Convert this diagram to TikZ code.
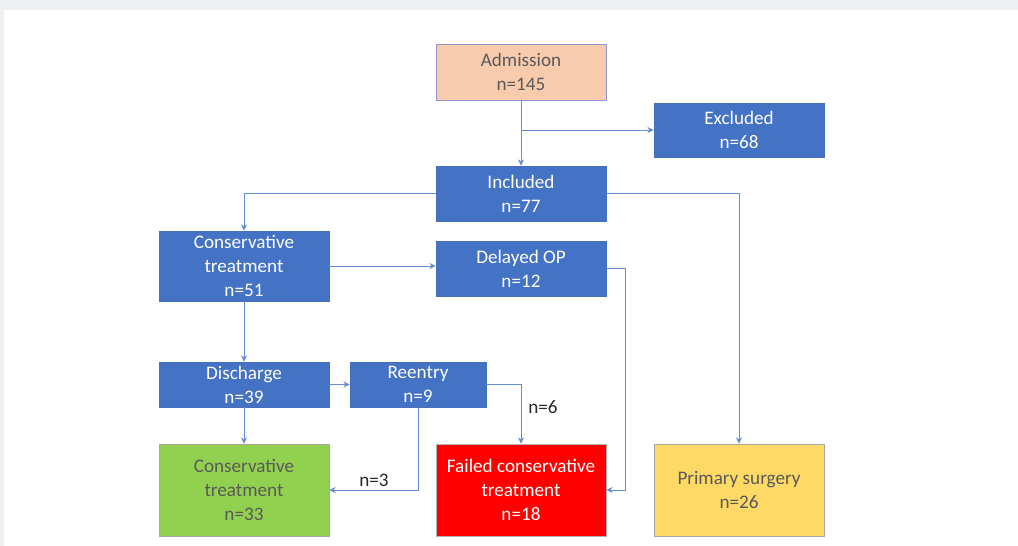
\documentclass[tikz,border=0pt]{standalone}
\usepackage{fontspec}
\setmainfont{Carlito}
\usetikzlibrary{arrows.meta, positioning, calc}
\definecolor{pagegrey}{RGB}{239,240,242}
\definecolor{boxblue}{RGB}{68,114,196}
\definecolor{edgeblue}{RGB}{70,110,185}
\definecolor{lineblue}{RGB}{100,140,210}
\definecolor{peach}{RGB}{248,203,173}
\definecolor{leafgreen}{RGB}{146,208,80}
\definecolor{sunyellow}{RGB}{255,217,102}
\definecolor{textgrey}{RGB}{89,89,89}

\begin{document}
\begin{tikzpicture}[
  x=0.02cm, y=-0.02cm,
  box/.style={rectangle, draw=edgeblue, line width=0.5pt, minimum width=3.4cm, align=center,
              inner sep=0pt, font=\fontsize{10.9}{13.6}\selectfont},
  bluebox/.style={box, fill=boxblue, text=white},
  lightbox/.style={box, draw=gray!70, text=textgrey},
  flow/.style={draw=lineblue, line width=0.5pt, -{Stealth[length=3.5pt,width=3.5pt]}},
  countlabel/.style={font=\fontsize{10.9}{12}\selectfont, text=black!85, inner sep=0pt}
]
  % page
  \fill[pagegrey] (0,0) rectangle (1018,546);
  \fill[white] (4,10) rectangle (1018,546);
  \useasboundingbox (0,0) rectangle (1018,546);

  \node[box, fill=peach, draw=gray!60!blue!60, text=textgrey, minimum height=1.12cm] (adm) at (521,72) {Admission\\n=145};
  \node[bluebox, minimum height=1.08cm] (excl) at (739,130) {Excluded\\n=68};
  \node[bluebox, minimum height=1.1cm] (incl) at (521,193.5) {Included\\n=77};
  \node[bluebox, minimum height=1.4cm] (cons) at (244,266) {Conservative\\treatment\\n=51};
  \node[bluebox, minimum height=1.1cm] (delop) at (521,268.5) {Delayed OP\\n=12};
  \node[bluebox, minimum height=0.9cm] (disch) at (244,384.5) {Discharge\\n=39};
  \node[bluebox, minimum height=0.9cm, minimum width=2.72cm] (reent) at (418,384.5) {Reentry\\n=9};
  \node[lightbox, fill=leafgreen, minimum height=1.84cm] (consok) at (244,490) {Conservative\\treatment\\n=33};
  \node[bluebox, fill=red, draw=gray!60, minimum height=1.84cm] (failed) at (521,490) {Failed conservative\\treatment\\n=18};
  \node[lightbox, fill=sunyellow, minimum height=1.84cm] (prim) at (739,490) {Primary surgery\\n=26};

  \coordinate (split) at (521,130);
  \draw[flow] (adm.south) -- (incl.north);
  \draw[flow] (split) -- (excl.west);
  \draw[flow] (incl.west) -| (cons.north);
  \draw[flow] (incl.east) -| (prim.north);
  \draw[flow] (cons.east) -- (cons.east -| delop.west);
  \draw[flow] (delop.east) -- ++(19,0) |- (failed.east);
  \draw[flow] (cons.south) -- (disch.north);
  \draw[flow] (disch.east) -- (disch.east -| reent.west);
  \draw[flow] (disch.south) -- (consok.north);
  \draw[flow] (reent.east) -| (failed.north);
  \draw[flow] (reent.south) |- (consok.east);

  \node[countlabel] (lab6) at (543,407) {n=6};
  \node[countlabel] (lab3) at (374,480) {n=3};
\end{tikzpicture}
\end{document}
